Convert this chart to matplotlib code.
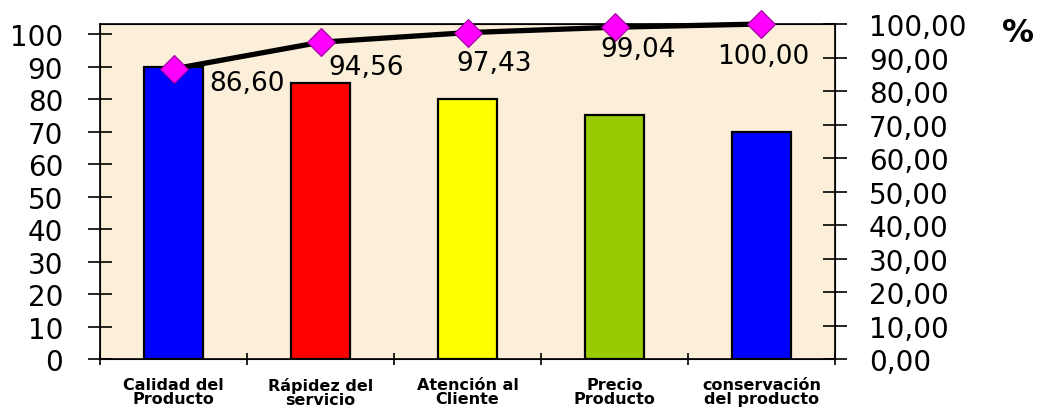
import numpy as np
import matplotlib.pyplot as plt

plt.rcParams['font.family'] = ['DejaVu Sans']

# Pareto data
categorias = ["Calidad del\nProducto", "Rápidez del\nservicio", "Atención al\nCliente",
              "Precio\nProducto", "conservación\ndel producto"]
frecuencia = [90, 85, 80, 75, 70]
acumulado = [86.60, 94.56, 97.43, 99.04, 100.00]
colores = ["#0000FF", "#FF0000", "#FFFF00", "#99CC00", "#0000FF"]

# label offsets (points) relative to each marker
offsets = [(53, -10), (33, -18), (19, -22), (17, -16), (1, -23)]

fig = plt.figure(figsize=(10.41, 4.14), dpi=100)
ax = fig.add_axes([0.0961, 0.1304, 0.7060, 0.8092])
ax.set_facecolor("#FBEFD9")

x = np.arange(len(categorias))
ax.bar(x, frecuencia, width=0.4, color=colores, edgecolor="black", linewidth=1.6, zorder=2)
ax.set_xlim(-0.5, len(categorias) - 0.5)
ax.set_ylim(0, 103.1)
ax.set_yticks(np.arange(0, 101, 10))
ax.tick_params(axis="y", direction="inout", length=17, width=1.2, labelsize=20, pad=18)

# category boundaries carry the x ticks, labels go under the bars
ax.set_xticks(np.arange(-0.5, len(categorias), 1.0))
ax.set_xticklabels([])
ax.tick_params(axis="x", direction="inout", length=8, width=1.2)
for xi, cat in zip(x, categorias):
    ax.annotate(cat, (xi, 0), xycoords=("data", "axes fraction"), xytext=(0, -13),
                textcoords="offset points", ha="center", va="top",
                fontsize=11.5, fontweight="bold", linespacing=0.92)

for s in ax.spines.values():
    s.set_linewidth(1.2)

ax2 = ax.twinx()
ax2.set_ylim(0, 100)
ax2.set_yticks(np.arange(0, 101, 10))
ax2.set_yticklabels([f"{v:.2f}".replace(".", ",") for v in np.arange(0, 101, 10)])
ax2.tick_params(axis="y", direction="inout", length=17, width=1.2, labelsize=20, pad=16)
ax2.plot(x, acumulado, color="black", linewidth=3.8, marker="D", markersize=14,
         markerfacecolor="#FF00FF", markeredgecolor="#990099", markeredgewidth=0.8,
         clip_on=False, zorder=3)
for xi, val, off in zip(x, acumulado, offsets):
    ax2.annotate(f"{val:.2f}".replace(".", ","), (xi, val), xytext=off,
                 textcoords="offset points", ha="center", va="center", fontsize=19)

fig.text(0.978, 0.918, "%", fontsize=23, fontweight="bold", ha="center", va="center")

fig.savefig("out.png", dpi=100)
